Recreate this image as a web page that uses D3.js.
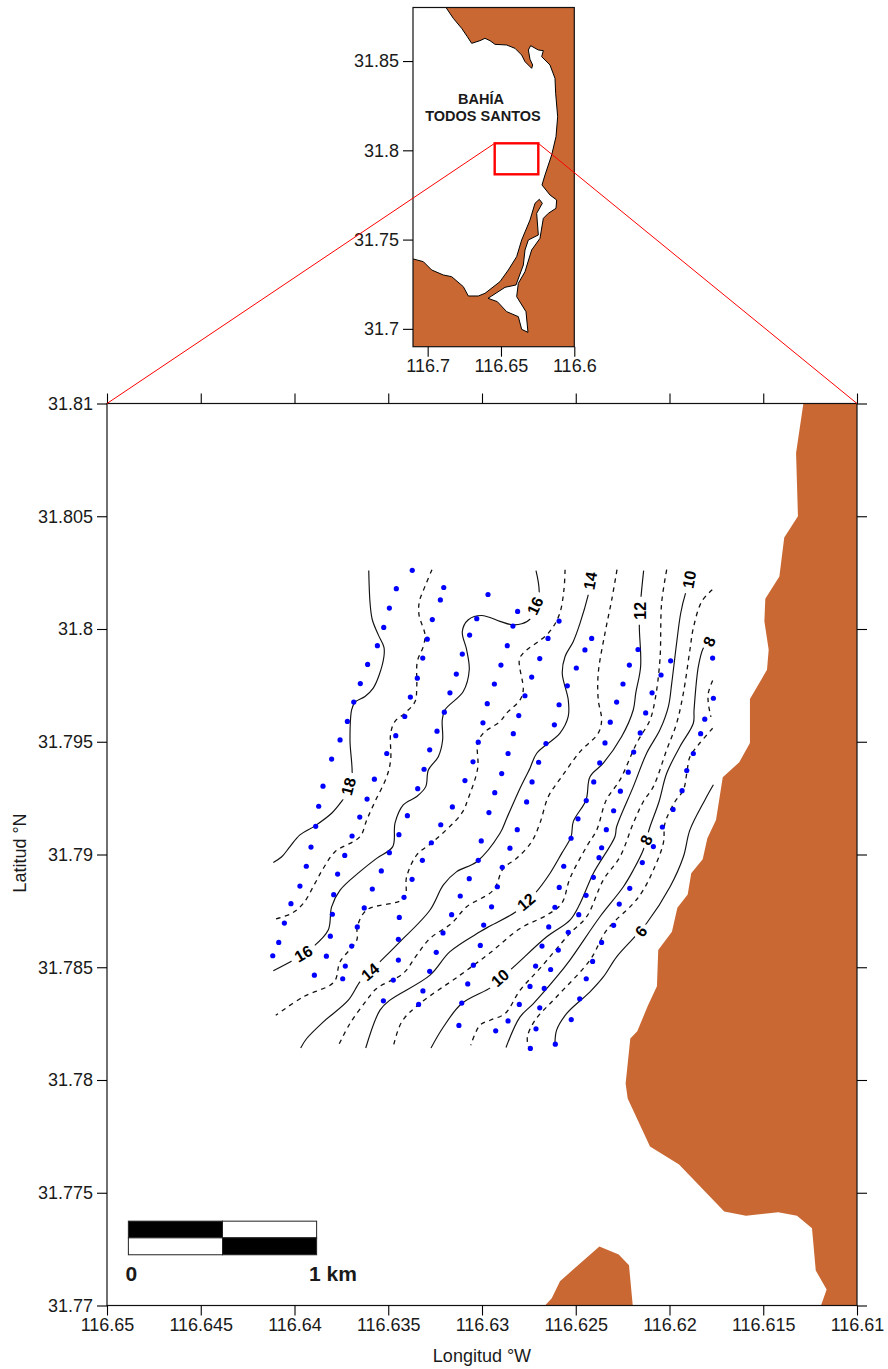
<!DOCTYPE html>
<html>
<head>
<meta charset="utf-8">
<script src="https://d3js.org/d3.v7.min.js"></script>
<style>
    body { margin: 0; background: #fff; }
    text { font-family: "Liberation Sans", Arial, sans-serif; fill: #1a1a1a; }
</style>
</head>
<body>
<svg width="888" height="1369"></svg>
<script>
// sampling stations [lon W, lat N], one array per transect
const transectA = [[116.63372,31.8026],[116.63457,31.80179],[116.63494,31.80093],[116.63524,31.80007],[116.63558,31.79926],[116.6361,31.79843],[116.63649,31.79758],[116.63684,31.79676],[116.63718,31.7959],[116.63757,31.79508],[116.63802,31.79423],[116.63848,31.79303],[116.63871,31.79214],[116.63887,31.79125],[116.63912,31.79033],[116.63937,31.78948],[116.63971,31.7886],[116.64019,31.78782],[116.64054,31.78696],[116.64084,31.7861],[116.64116,31.78551]];
const transectB = [[116.63204,31.80184],[116.63222,31.80129],[116.63265,31.80042],[116.63292,31.79955],[116.63316,31.79871],[116.63345,31.79782],[116.63382,31.79698],[116.63412,31.79612],[116.6346,31.79527],[116.63508,31.79448],[116.63574,31.79334],[116.63613,31.79246],[116.63652,31.79166],[116.63693,31.79082],[116.63732,31.78996],[116.6377,31.78913],[116.63791,31.78822],[116.63798,31.78735],[116.63809,31.78638],[116.6383,31.78549],[116.63894,31.78465]];
const transectC = [[116.62968,31.80153],[116.63028,31.80046],[116.63066,31.79973],[116.63105,31.79889],[116.63137,31.798],[116.63171,31.79717],[116.63201,31.79631],[116.6324,31.79547],[116.63279,31.79464],[116.63309,31.79378],[116.63343,31.79292],[116.63398,31.79172],[116.63443,31.79088],[116.63494,31.79008],[116.63537,31.78927],[116.63585,31.78847],[116.63628,31.78763],[116.63665,31.78679],[116.63695,31.78594],[116.63729,31.78505],[116.63743,31.78449]];
const transectD = [[116.6281,31.80078],[116.62835,31.80013],[116.62865,31.79926],[116.62899,31.7984],[116.62934,31.79756],[116.62972,31.79669],[116.62995,31.79584],[116.6302,31.79498],[116.63048,31.79411],[116.63091,31.79328],[116.63158,31.79211],[116.6322,31.79132],[116.6327,31.79052],[116.63318,31.78974],[116.63373,31.7889],[116.63416,31.7881],[116.63441,31.78721],[116.63446,31.78624],[116.63446,31.78532],[116.63473,31.78443],[116.63526,31.78351]];
const transectE = [[116.62589,31.80035],[116.62648,31.79958],[116.62692,31.79869],[116.62735,31.79787],[116.62771,31.79704],[116.62804,31.79616],[116.62833,31.79536],[116.62861,31.79448],[116.62895,31.79359],[116.62932,31.79274],[116.62963,31.79186],[116.63004,31.7906],[116.6302,31.78974],[116.63068,31.78893],[116.63116,31.78816],[116.63162,31.78733],[116.63208,31.78652],[116.63244,31.78566],[116.63279,31.78482],[116.63315,31.78395],[116.63338,31.78335]];
const transectF = [[116.62415,31.79958],[116.62451,31.79907],[116.62497,31.79827],[116.62545,31.79748],[116.62589,31.79664],[116.62614,31.79575],[116.62659,31.79492],[116.62698,31.79409],[116.62733,31.79322],[116.62762,31.79233],[116.62812,31.7911],[116.62851,31.79028],[116.62892,31.78943],[116.62918,31.78857],[116.62949,31.78768],[116.62991,31.78687],[116.63009,31.78597],[116.63046,31.78509],[116.63076,31.78426],[116.63108,31.78341],[116.63123,31.78242]];
const transectG = [[116.62168,31.79909],[116.62214,31.7984],[116.62248,31.79756],[116.62282,31.79676],[116.62316,31.79587],[116.62344,31.79495],[116.62372,31.79406],[116.62404,31.79322],[116.62444,31.79239],[116.62488,31.79158],[116.62525,31.79072],[116.62564,31.78948],[116.62588,31.78854],[116.62611,31.78766],[116.62644,31.78679],[116.6268,31.78594],[116.62714,31.78505],[116.62744,31.78415],[116.62801,31.78335],[116.62861,31.78262],[116.62927,31.78218]];
const transectH = [[116.61994,31.79859],[116.62045,31.79796],[116.62093,31.79717],[116.62127,31.79628],[116.62156,31.79539],[116.62191,31.79454],[116.6222,31.79365],[116.62262,31.79281],[116.62298,31.79194],[116.62337,31.7911],[116.62362,31.7903],[116.62376,31.78986],[116.62406,31.78899],[116.62445,31.78819],[116.62484,31.78733],[116.6254,31.78655],[116.62593,31.78576],[116.62634,31.7849],[116.62668,31.78406],[116.62692,31.7832],[116.62712,31.78227],[116.62742,31.7814]];
const transectI = [[116.6177,31.79871],[116.61766,31.79693],[116.61812,31.796],[116.61834,31.79536],[116.61873,31.79448],[116.61908,31.79372],[116.61933,31.79283],[116.61981,31.792],[116.62038,31.79122],[116.62086,31.79035],[116.62145,31.78964],[116.62212,31.7885],[116.62268,31.7878],[116.62298,31.78686],[116.62362,31.7861],[116.6241,31.78526],[116.62444,31.78449],[116.62479,31.7836],[116.62524,31.78268],[116.62609,31.78159]];

// isolines, even depths
const contour18 = [[116.63604,31.80259],[116.63597,31.80115],[116.63585,31.80041],[116.63553,31.79974],[116.63523,31.7992],[116.63523,31.79878],[116.63548,31.79797],[116.6358,31.79738],[116.63624,31.79701],[116.63677,31.79676],[116.63695,31.79642],[116.63704,31.79508],[116.63693,31.79349],[116.63713,31.79277],[116.63743,31.79242],[116.63802,31.79183],[116.63891,31.79127],[116.63971,31.79087],[116.64024,31.79035],[116.64068,31.7899],[116.64113,31.78965]];
const contour16 = [[116.62712,31.80259],[116.62696,31.80148],[116.62744,31.80044],[116.62788,31.80023],[116.62842,31.80019],[116.62904,31.80034],[116.63002,31.8006],[116.63073,31.80041],[116.63105,31.79989],[116.63082,31.79908],[116.63068,31.79819],[116.631,31.79723],[116.63197,31.79642],[116.63212,31.79597],[116.6321,31.79508],[116.63233,31.79434],[116.63286,31.79375],[116.633,31.79301],[116.63348,31.79257],[116.6342,31.7922],[116.63464,31.79139],[116.63476,31.79035],[116.63562,31.78983],[116.63651,31.78924],[116.63757,31.78842],[116.63802,31.78768],[116.6382,31.78665],[116.639,31.78591],[116.63953,31.78561],[116.64006,31.78532],[116.64113,31.78484]];
const contour14 = [[116.62408,31.80254],[116.62433,31.80152],[116.62477,31.80026],[116.62513,31.79945],[116.62557,31.79878],[116.62572,31.79804],[116.6254,31.79686],[116.6254,31.79612],[116.62584,31.79538],[116.62708,31.79449],[116.62744,31.79383],[116.62797,31.79294],[116.62868,31.79161],[116.62904,31.79094],[116.63028,31.78968],[116.63135,31.78924],[116.63206,31.78865],[116.63277,31.78754],[116.63446,31.78606],[116.63553,31.78517],[116.63597,31.7848],[116.63651,31.78435],[116.63713,31.78354],[116.63846,31.78258],[116.63935,31.78184],[116.63967,31.78142]];
const contour12 = [[116.62138,31.80259],[116.62154,31.80122],[116.62161,31.80019],[116.62154,31.79834],[116.6218,31.79716],[116.62193,31.79642],[116.62255,31.79523],[116.62353,31.79405],[116.62424,31.79345],[116.62445,31.79242],[116.62513,31.79146],[116.62525,31.79079],[116.62575,31.79005],[116.62637,31.78917],[116.62717,31.78828],[116.62765,31.7879],[116.62819,31.78746],[116.62957,31.78683],[116.63011,31.78657],[116.63171,31.78569],[116.63277,31.78465],[116.63491,31.78354],[116.63544,31.7831],[116.6362,31.78142]];
const contour10 = [[116.61875,31.8025],[116.61914,31.8016],[116.6194,31.80071],[116.61962,31.79938],[116.61988,31.7976],[116.62006,31.79656],[116.62051,31.79553],[116.62122,31.79449],[116.62193,31.79301],[116.62282,31.79123],[116.62291,31.79079],[116.62406,31.78917],[116.62477,31.78783],[116.62531,31.78709],[116.62655,31.78635],[116.62851,31.78487],[116.62904,31.78453],[116.62948,31.78413],[116.63108,31.78339],[116.63206,31.78235],[116.63272,31.78142]];
const contour8 = [[116.61789,31.79945],[116.6182,31.79915],[116.61846,31.79834],[116.61869,31.79642],[116.61873,31.79582],[116.61944,31.79479],[116.62015,31.7936],[116.62056,31.79234],[116.62104,31.79123],[116.62125,31.79064],[116.6214,31.7902],[116.62193,31.78931],[116.62246,31.78857],[116.62371,31.78724],[116.62531,31.78532],[116.62602,31.78457],[116.62726,31.78339],[116.62797,31.7828],[116.62872,31.78144]];
const contour6 = [[116.61766,31.79309],[116.61811,31.79242],[116.61891,31.79109],[116.61926,31.7899],[116.61997,31.78857],[116.62122,31.78695],[116.62193,31.78628],[116.62282,31.78546],[116.62353,31.78457],[116.62424,31.78391],[116.62548,31.78295],[116.62602,31.78221],[116.62611,31.78154]];

// isolines, odd depths (dashed)
const contour17 = [[116.63267,31.80263],[116.63304,31.80189],[116.63334,31.80122],[116.63336,31.80063],[116.63304,31.79974],[116.63313,31.79923],[116.63345,31.79856],[116.63348,31.79745],[116.63357,31.79678],[116.63411,31.79627],[116.63464,31.7959],[116.63487,31.79538],[116.63487,31.7942],[116.63508,31.79345],[116.63571,31.79234],[116.63615,31.79153],[116.63651,31.79079],[116.63784,31.79012],[116.63846,31.78939],[116.63891,31.78872],[116.63953,31.78783],[116.64015,31.78739],[116.64113,31.78712]];
const contour15 = [[116.62557,31.80263],[116.62563,31.80174],[116.62588,31.80063],[116.62646,31.79982],[116.6278,31.79893],[116.62801,31.79863],[116.6278,31.7973],[116.62797,31.79686],[116.62868,31.79627],[116.62904,31.7959],[116.62993,31.79538],[116.63023,31.79494],[116.63023,31.79383],[116.63073,31.7925],[116.63108,31.79183],[116.6326,31.79057],[116.63348,31.78998],[116.63402,31.78901],[116.63416,31.78806],[116.63615,31.78754],[116.63665,31.78679],[116.63668,31.7862],[116.63757,31.78524],[116.63789,31.78435],[116.63953,31.78369],[116.641,31.78287]];
const contour13 = [[116.6228,31.80263],[116.62308,31.8013],[116.62344,31.79982],[116.6238,31.79804],[116.6238,31.79686],[116.62362,31.79597],[116.6238,31.79538],[116.62477,31.79456],[116.62575,31.79345],[116.62646,31.79257],[116.62691,31.79139],[116.62735,31.79057],[116.62815,31.78983],[116.62886,31.78939],[116.6294,31.78842],[116.63082,31.78768],[116.63162,31.78695],[116.63277,31.78628],[116.63348,31.78554],[116.6342,31.78473],[116.63562,31.78406],[116.63615,31.78354],[116.63704,31.78251],[116.63772,31.78142]];
const contour11 = [[116.62015,31.80263],[116.62042,31.80115],[116.62051,31.79863],[116.62077,31.79686],[116.62104,31.79597],[116.62175,31.79494],[116.62264,31.79331],[116.62337,31.79242],[116.62388,31.79109],[116.62442,31.79035],[116.62531,31.78894],[116.62575,31.78783],[116.62655,31.78731],[116.62797,31.78672],[116.62957,31.78564],[116.63117,31.78465],[116.63331,31.78339],[116.63428,31.78258],[116.63475,31.78142]];
const contour9 = [[116.61772,31.80174],[116.61828,31.80122],[116.61873,31.80004],[116.61891,31.79908],[116.61926,31.79716],[116.61962,31.79582],[116.62015,31.79464],[116.62086,31.79301],[116.6214,31.79234],[116.62193,31.79139],[116.62264,31.7899],[116.62353,31.78887],[116.62442,31.78724],[116.62531,31.7865],[116.62691,31.78495],[116.62797,31.78398],[116.62877,31.78295],[116.62957,31.78265],[116.63011,31.78243],[116.6306,31.78154]];
const contour7a = [[116.6177,31.79772],[116.61793,31.79716],[116.61793,31.79671],[116.61779,31.7961]];
const contour7b = [[116.6177,31.7956],[116.61846,31.79486],[116.61891,31.79434],[116.61908,31.7936],[116.61926,31.79286],[116.61971,31.79234],[116.62024,31.79139],[116.62033,31.7905],[116.62086,31.78931],[116.6214,31.78842],[116.62193,31.78783],[116.62335,31.78665],[116.62424,31.78532],[116.62602,31.78369],[116.62717,31.78265],[116.62758,31.78191],[116.62753,31.78147]];

// [label, lon, lat, text angle]
const contourLabels = [["18",116.63713,31.79302,-75],["16",116.62717,31.80103,-65],["14",116.62424,31.80214,-80],["12",116.62157,31.80081,-90],["10",116.61896,31.80219,-80],["8",116.61789,31.79945,-65],["16",116.63953,31.78561,-30],["14",116.63597,31.7848,-40],["12",116.62765,31.7879,-40],["10",116.62904,31.78453,-42],["8",116.62125,31.79064,-65],["6",116.62152,31.7866,-52]];

// shoreline of the zoomed map
const mainCoast = [[116.61286,31.81],[116.61325,31.80781],[116.61315,31.805],[116.61388,31.80406],[116.61414,31.80233],[116.61489,31.80134],[116.61494,31.80034],[116.61471,31.79908],[116.6148,31.79819],[116.61571,31.7969],[116.61571,31.79494],[116.61628,31.79409],[116.61716,31.79343],[116.61752,31.79153],[116.61798,31.79072],[116.61823,31.78979],[116.61884,31.78917],[116.61903,31.78823],[116.61958,31.78764],[116.61987,31.78657],[116.6206,31.78576],[116.62067,31.78416],[116.62115,31.7833],[116.62172,31.78216],[116.62209,31.78184],[116.62234,31.77984],[116.62223,31.77918],[116.62104,31.77705],[116.61949,31.77625],[116.61708,31.77417],[116.61592,31.77398],[116.6142,31.77413],[116.6132,31.77398],[116.6124,31.77343],[116.6122,31.77155],[116.61162,31.77071],[116.61192,31.77],[116.61,31.77],[116.61,31.81]];
const mainIsland = [[116.62664,31.77],[116.62628,31.77032],[116.62584,31.77108],[116.62374,31.77262],[116.62271,31.77226],[116.62216,31.77178],[116.62196,31.77]];

// shoreline of the location map
const insetCoast = [[116.6875,31.88],[116.6825,31.87393],[116.67681,31.86833],[116.67295,31.86366],[116.66999,31.85993],[116.66431,31.86142],[116.6609,31.86273],[116.65749,31.86142],[116.65408,31.85937],[116.64613,31.859],[116.64044,31.85713],[116.6359,31.85339],[116.63362,31.84966],[116.62908,31.84593],[116.62839,31.84779],[116.63021,31.85097],[116.63135,31.85619],[116.62976,31.85862],[116.62453,31.85619],[116.62112,31.85582],[116.62226,31.85246],[116.61658,31.84779],[116.61317,31.84033],[116.61271,31.83192],[116.61135,31.81885],[116.61248,31.80765],[116.61544,31.79738],[116.61998,31.78618],[116.62203,31.78058],[116.61658,31.77498],[116.61203,31.77218],[116.61248,31.76751],[116.61771,31.76471],[116.62112,31.76191],[116.6234,31.7507],[116.62908,31.74417],[116.63362,31.73203],[116.63817,31.7255],[116.63931,31.71803],[116.63294,31.70963],[116.63158,31.69805],[116.6359,31.69973],[116.63817,31.70683],[116.64613,31.70963],[116.65249,31.71523],[116.65885,31.7171],[116.65635,31.7184],[116.64726,31.72326],[116.63976,31.72457],[116.63476,31.73577],[116.63362,31.74417],[116.63135,31.74977],[116.62453,31.75257],[116.62567,31.76471],[116.6218,31.77031],[116.62385,31.77255],[116.6268,31.77031],[116.63021,31.76097],[116.6359,31.74977],[116.63931,31.74044],[116.64499,31.73297],[116.65067,31.72643],[116.6609,31.7199],[116.66545,31.7184],[116.67227,31.7184],[116.67568,31.72363],[116.68363,31.72923],[116.68931,31.73017],[116.69727,31.73297],[116.70295,31.73763],[116.70977,31.73913],[116.71,31.73905]];
const insetCorners = [[116.71,31.69],[116.6,31.69],[116.6,31.88]];

const insetBox = {lon: [116.65429, 116.62455], lat: [31.80393, 31.78657]};

const mainLonTicks = [116.65,116.645,116.64,116.635,116.63,116.625,116.62,116.615,116.61];
const mainLatTicks = [31.81,31.805,31.8,31.795,31.79,31.785,31.78,31.775,31.77];
const insetLonTicks = [116.7,116.65,116.6];
const insetLatTicks = [31.85,31.8,31.75,31.7];

const scaleBarLon = [116.64886,116.64384,116.63882];
const scaleBarLat = [31.77374,31.773,31.77225];

const landColor = "#C96833";

var svg = d3.select("svg");

// scales, longitude grows to the left
var x = d3.scaleLinear().domain([116.65, 116.61]).range([107, 857]);
var y = d3.scaleLinear().domain([31.81, 31.77]).range([403.5, 1305.5]);
var xi = d3.scaleLinear().domain([116.71, 116.6]).range([413, 574.3]);
var yi = d3.scaleLinear().domain([31.88, 31.69]).range([7.5, 346.7]);

var mainLine = d3.line().x(function(d) { return x(d[0]); }).y(function(d) { return y(d[1]); });
var insetLine = d3.line().x(function(d) { return xi(d[0]); }).y(function(d) { return yi(d[1]); });
var smooth = d3.line().curve(d3.curveCatmullRom.alpha(0.5)).x(function(d) { return x(d[0]); }).y(function(d) { return y(d[1]); });

function style_axis(g, size) {
    g.selectAll("path.domain").remove();
    g.selectAll("line").attr("stroke", "#000").attr("stroke-width", 1.1);
    g.selectAll("text").style("font-size", size + "px").attr("fill", "#1a1a1a");
}

// ---- location map ----
var inset = svg.append("g");

inset.append("path")
    .attr("d", insetLine(insetCoast.concat(insetCorners)) + "Z")
    .attr("fill", landColor);
inset.append("path")
    .attr("d", insetLine(insetCoast))
    .attr("fill", "none")
    .attr("stroke", "#000")
    .attr("stroke-width", 1);

inset.append("rect")
    .attr("x", xi(116.71)).attr("y", yi(31.88))
    .attr("width", xi(116.6) - xi(116.71)).attr("height", yi(31.69) - yi(31.88))
    .attr("fill", "none").attr("stroke", "#111").attr("stroke-width", 1.2);

inset.append("g")
    .attr("transform", "translate(" + xi(116.71) + ",0)")
    .call(d3.axisLeft(yi).tickValues(insetLatTicks).tickFormat(String).tickSize(10).tickPadding(4).tickSizeOuter(0))
    .call(style_axis, 18);
inset.append("g")
    .attr("transform", "translate(0," + yi(31.69) + ")")
    .call(d3.axisBottom(xi).tickValues(insetLonTicks).tickFormat(String).tickSize(10).tickPadding(3).tickSizeOuter(0))
    .call(style_axis, 18);

inset.append("text").attr("x", 481).attr("y", 104).attr("text-anchor", "middle")
    .style("font-size", "14.5px").style("font-weight", "bold").text("BAHÍA");
inset.append("text").attr("x", 483).attr("y", 121).attr("text-anchor", "middle")
    .style("font-size", "14.5px").style("font-weight", "bold").text("TODOS SANTOS");

// ---- zoomed map ----
var map = svg.append("g");

[mainCoast, mainIsland].forEach(function(d) {
    map.append("path").attr("d", mainLine(d) + "Z").attr("fill", landColor);
});

// isolines
[contour18, contour16, contour14, contour12, contour10, contour8, contour6].forEach(function(d) {
    map.append("path").attr("d", smooth(d))
        .attr("fill", "none").attr("stroke", "#111").attr("stroke-width", 1.15);
});
[contour17, contour15, contour13, contour11, contour9, contour7a, contour7b].forEach(function(d) {
    map.append("path").attr("d", smooth(d))
        .attr("fill", "none").attr("stroke", "#111").attr("stroke-width", 1.3)
        .attr("stroke-dasharray", "4.5 4.5");
});

// isoline labels on a white patch
var labels = map.selectAll("g.lab").data(contourLabels).enter().append("g")
    .attr("class", "lab")
    .attr("transform", function(d) { return "translate(" + x(d[1]) + "," + y(d[2]) + ") rotate(" + d[3] + ")"; });
labels.append("rect")
    .attr("x", function(d) { return -d[0].length * 6 - 2; })
    .attr("y", -8)
    .attr("width", function(d) { return d[0].length * 12 + 4; })
    .attr("height", 16)
    .attr("fill", "#fff");
labels.append("text")
    .attr("text-anchor", "middle")
    .attr("dy", "0.36em")
    .style("font-size", "16px")
    .style("font-weight", "bold")
    .style("fill", "#000")
    .text(function(d) { return d[0]; });

// stations
var stations = [transectA, transectB, transectC, transectD, transectE, transectF, transectG, transectH, transectI];
map.selectAll("circle.st").data(d3.merge(stations)).enter().append("circle")
    .attr("class", "st")
    .attr("cx", function(d) { return x(d[0]); })
    .attr("cy", function(d) { return y(d[1]); })
    .attr("r", 2.6)
    .attr("fill", "#0000ff");

// frame and ticks on all four sides
map.append("rect")
    .attr("x", x(116.65)).attr("y", y(31.81))
    .attr("width", x(116.61) - x(116.65)).attr("height", y(31.77) - y(31.81))
    .attr("fill", "none").attr("stroke", "#111").attr("stroke-width", 1.2);

map.append("g")
    .attr("transform", "translate(" + x(116.65) + ",0)")
    .call(d3.axisLeft(y).tickValues(mainLatTicks).tickFormat(String).tickSize(10).tickPadding(4).tickSizeOuter(0))
    .call(style_axis, 18);
map.append("g")
    .attr("transform", "translate(" + x(116.61) + ",0)")
    .call(d3.axisRight(y).tickValues(mainLatTicks).tickFormat("").tickSize(10).tickSizeOuter(0))
    .call(style_axis, 18);
map.append("g")
    .attr("transform", "translate(0," + y(31.77) + ")")
    .call(d3.axisBottom(x).tickValues(mainLonTicks).tickFormat(String).tickSize(10).tickPadding(3).tickSizeOuter(0))
    .call(style_axis, 18);
map.append("g")
    .attr("transform", "translate(0," + y(31.81) + ")")
    .call(d3.axisTop(x).tickValues(mainLonTicks).tickFormat("").tickSize(10).tickSizeOuter(0))
    .call(style_axis, 18);

svg.append("text")
    .attr("x", 482).attr("y", 1362).attr("text-anchor", "middle")
    .style("font-size", "18px").text("Longitud °W");
svg.append("text")
    .attr("transform", "translate(26,853) rotate(-90)").attr("text-anchor", "middle")
    .style("font-size", "18px").text("Latitud °N");

// scale bar, alternating black and white blocks
var bar = svg.append("g");
[[0, 0, "#000"], [1, 0, "#fff"], [0, 1, "#fff"], [1, 1, "#000"]].forEach(function(c) {
    bar.append("rect")
        .attr("x", x(scaleBarLon[c[0]]))
        .attr("y", y(scaleBarLat[c[1]]))
        .attr("width", x(scaleBarLon[c[0] + 1]) - x(scaleBarLon[c[0]]))
        .attr("height", y(scaleBarLat[c[1] + 1]) - y(scaleBarLat[c[1]]))
        .attr("fill", c[2])
        .attr("stroke", "#222")
        .attr("stroke-width", 1);
});
bar.append("text").attr("x", x(scaleBarLon[0]) + 3).attr("y", 1281).attr("text-anchor", "middle")
    .style("font-size", "21px").style("font-weight", "bold").text("0");
bar.append("text").attr("x", 309).attr("y", 1281)
    .style("font-size", "21px").style("font-weight", "bold").text("1 km");

// red box on the location map and the lines tying it to the zoomed map
var red = svg.append("g");
red.append("line")
    .attr("x1", xi(insetBox.lon[0])).attr("y1", yi(insetBox.lat[0]))
    .attr("x2", x(116.65)).attr("y2", y(31.81))
    .attr("stroke", "#ff0000").attr("stroke-width", 1);
red.append("line")
    .attr("x1", xi(insetBox.lon[1])).attr("y1", yi(insetBox.lat[0]))
    .attr("x2", x(116.61)).attr("y2", y(31.81))
    .attr("stroke", "#ff0000").attr("stroke-width", 1);
red.append("rect")
    .attr("x", xi(insetBox.lon[0])).attr("y", yi(insetBox.lat[0]))
    .attr("width", xi(insetBox.lon[1]) - xi(insetBox.lon[0]))
    .attr("height", yi(insetBox.lat[1]) - yi(insetBox.lat[0]))
    .attr("fill", "none").attr("stroke", "#ff0000").attr("stroke-width", 2.4);
</script>
</body>
</html>
